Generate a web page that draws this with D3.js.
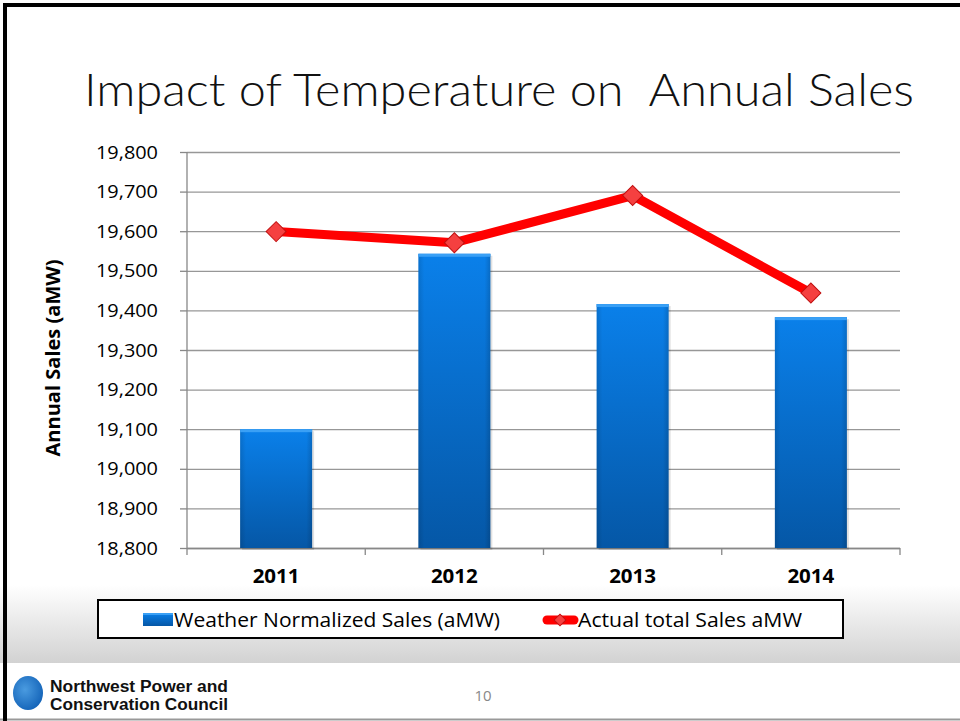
<!DOCTYPE html>
<html><head><meta charset="utf-8">
<script src="https://cdn.jsdelivr.net/npm/d3@7"></script>
<style>body{margin:0;background:#fff}svg{display:block}</style>
</head><body>
<script>
const categories = ["2011","2012","2013","2014"];
const normalizedSales = [19100, 19543, 19416, 19383];
const actualSales = [19599, 19571, 19690, 19444];
const yTicks = [18800,18900,19000,19100,19200,19300,19400,19500,19600,19700,19800];
const seriesNames = ["Weather Normalized Sales (aMW)", "Actual total Sales aMW"];

const W = 960, H = 721;
const FONT = "'Open Sans', sans-serif";
const svg = d3.select("body").append("svg").attr("width", W).attr("height", H);
const defs = svg.append("defs");

const bg = defs.append("linearGradient").attr("id","band").attr("x1",0).attr("y1",0).attr("x2",0).attr("y2",1);
bg.append("stop").attr("offset","0%").attr("stop-color","#ffffff");
bg.append("stop").attr("offset","100%").attr("stop-color","#d2d2d2");

const bar = defs.append("linearGradient").attr("id","bar").attr("x1",0).attr("y1",0).attr("x2",0).attr("y2",1);
bar.append("stop").attr("offset","0%").attr("stop-color","#0a80ea");
bar.append("stop").attr("offset","100%").attr("stop-color","#0557a6");
const barH = defs.append("linearGradient").attr("id","barH").attr("x1",0).attr("y1",0).attr("x2",1).attr("y2",0);
barH.append("stop").attr("offset","0%").attr("stop-color","#000").attr("stop-opacity",0.12);
barH.append("stop").attr("offset","8%").attr("stop-color","#000").attr("stop-opacity",0);
barH.append("stop").attr("offset","92%").attr("stop-color","#000").attr("stop-opacity",0);
barH.append("stop").attr("offset","100%").attr("stop-color","#000").attr("stop-opacity",0.15);

// background band + frame
svg.append("rect").attr("x",0).attr("y",585).attr("width",W).attr("height",78).attr("fill","url(#band)");
svg.append("line").attr("x1",0).attr("x2",W).attr("y1",719.5).attr("y2",719.5).attr("stroke","#999").attr("stroke-width",2);
svg.append("line").attr("x1",3).attr("x2",W).attr("y1",5).attr("y2",5).attr("stroke","#000").attr("stroke-width",4);
svg.append("line").attr("x1",5).attr("x2",5).attr("y1",3).attr("y2",H).attr("stroke","#000").attr("stroke-width",4);

// title
svg.append("text").attr("x",84).attr("y",106)
  .attr("font-family","Lato, 'DejaVu Sans', sans-serif").attr("font-weight",300)
  .attr("font-size",46).attr("fill","#111")
  .attr("textLength",830).attr("lengthAdjust","spacingAndGlyphs")
  .style("white-space","pre")
  .text("Impact of Temperature on  Annual Sales");

const L = 187, R = 900, T = 152, B = 548;
const x = d3.scaleBand().domain(categories).range([L,R]);
const y = d3.scaleLinear().domain([18800,19800]).range([B,T]);

const g = svg.append("g");
// gridlines
g.selectAll(".grid").data(yTicks).join("line")
  .attr("x1",L).attr("x2",R).attr("y1",d=>y(d)+0.5).attr("y2",d=>y(d)+0.5)
  .attr("stroke","#979797").attr("stroke-width",1.3);

// y axis
const ya = g.append("g").attr("transform",`translate(${L},0)`)
  .call(d3.axisLeft(y).tickValues(yTicks).tickSize(7).tickPadding(22).tickFormat(d3.format(",")));
ya.select(".domain").attr("stroke","#888").attr("stroke-width",1.3).attr("d",`M0,${T}V${B}`);
ya.selectAll(".tick line").attr("stroke","#888").attr("stroke-width",1.3);
ya.selectAll("text").attr("font-family",FONT).attr("font-size",19).attr("fill","#000")
  .attr("textLength",62).attr("lengthAdjust","spacingAndGlyphs");

// x axis
const xa = g.append("g").attr("transform",`translate(0,${B})`)
  .call(d3.axisBottom(x).tickSize(0).tickPadding(22));
xa.select(".domain").attr("stroke","#888").attr("stroke-width",1.3).attr("d",`M${L},0.5H${R}`);
xa.selectAll("text").attr("font-family",FONT).attr("font-weight","bold").attr("font-size",19).attr("fill","#000")
  .attr("textLength",47).attr("lengthAdjust","spacingAndGlyphs");
const bounds = categories.map(c=>x(c)).concat([R]);
xa.selectAll(".sep").data(bounds).join("line").attr("class","sep")
  .attr("x1",d=>d).attr("x2",d=>d).attr("y1",0).attr("y2",7).attr("stroke","#888").attr("stroke-width",1.3);

// y title
svg.append("text").attr("transform","translate(60,358) rotate(-90)").attr("text-anchor","middle")
  .attr("font-family",FONT).attr("font-weight","bold").attr("font-size",19)
  .attr("textLength",197).attr("lengthAdjust","spacingAndGlyphs")
  .text("Annual Sales (aMW)");

// bars
const bw = 72;
const bars = g.selectAll(".bar").data(categories).join("g");
bars.append("rect").attr("x",(d)=>x(d)+x.bandwidth()/2-bw/2+2).attr("y",(d,i)=>y(normalizedSales[i])+2)
  .attr("width",bw).attr("height",(d,i)=>B-y(normalizedSales[i])).attr("fill","#000").attr("opacity",0.12);
bars.append("rect").attr("x",(d)=>x(d)+x.bandwidth()/2-bw/2).attr("y",(d,i)=>y(normalizedSales[i]))
  .attr("width",bw).attr("height",(d,i)=>B-y(normalizedSales[i])).attr("fill","url(#bar)");
bars.append("rect").attr("x",(d)=>x(d)+x.bandwidth()/2-bw/2).attr("y",(d,i)=>y(normalizedSales[i]))
  .attr("width",bw).attr("height",(d,i)=>B-y(normalizedSales[i])).attr("fill","url(#barH)");
bars.append("rect").attr("x",(d)=>x(d)+x.bandwidth()/2-bw/2).attr("y",(d,i)=>y(normalizedSales[i]))
  .attr("width",bw).attr("height",3).attr("fill","#3aa0f5");

// line
const cx = d=>x(d)+x.bandwidth()/2;
const line = d3.line().x((d,i)=>cx(categories[i])).y(d=>y(d));
g.append("path").datum(actualSales).attr("d",line).attr("fill","none")
  .attr("stroke","#ff0000").attr("stroke-width",9).attr("stroke-linejoin","round");
g.selectAll(".mk").data(actualSales).join("path")
  .attr("transform",(d,i)=>`translate(${cx(categories[i])},${y(d)}) rotate(45)`)
  .attr("d",d3.symbol().type(d3.symbolSquare).size(200))
  .attr("fill","#f54040").attr("stroke","#c01010").attr("stroke-width",1);

// legend
const lg = svg.append("g");
lg.append("rect").attr("x",98).attr("y",600).attr("width",745).attr("height",38).attr("fill","#fff").attr("stroke","#000").attr("stroke-width",2);
lg.append("rect").attr("x",143).attr("y",613).attr("width",30).attr("height",13).attr("fill","url(#bar)");
lg.append("rect").attr("x",143).attr("y",613).attr("width",30).attr("height",2).attr("fill","#3aa0f5");
lg.append("text").attr("x",174).attr("y",627).attr("font-family",FONT).attr("font-size",20)
  .attr("textLength",326).attr("lengthAdjust","spacingAndGlyphs").text(seriesNames[0]);
lg.append("line").attr("x1",547).attr("x2",574).attr("y1",620).attr("y2",620).attr("stroke","#ff0000").attr("stroke-width",9).attr("stroke-linecap","round");
lg.append("path").attr("transform","translate(560,620) rotate(45)").attr("d",d3.symbol().type(d3.symbolSquare).size(70))
  .attr("fill","#f54040").attr("stroke","#c01010").attr("stroke-width",1);
lg.append("text").attr("x",578).attr("y",627).attr("font-family",FONT).attr("font-size",20)
  .attr("textLength",224).attr("lengthAdjust","spacingAndGlyphs").text(seriesNames[1]);

// footer
const lr = defs.append("radialGradient").attr("id","logo").attr("cx","40%").attr("cy","40%").attr("r","70%");
lr.append("stop").attr("offset","0%").attr("stop-color","#4a9be0");
lr.append("stop").attr("offset","100%").attr("stop-color","#0f5fb5");
svg.append("ellipse").attr("cx",28).attr("cy",693).attr("rx",15).attr("ry",17).attr("fill","url(#logo)");
svg.append("text").attr("x",50).attr("y",692).attr("font-family","'Liberation Sans', Arial, sans-serif").attr("font-weight","bold")
  .attr("font-size",16).attr("textLength",178).attr("lengthAdjust","spacingAndGlyphs").attr("fill","#111").text("Northwest Power and");
svg.append("text").attr("x",50).attr("y",710).attr("font-family","'Liberation Sans', Arial, sans-serif").attr("font-weight","bold")
  .attr("font-size",16).attr("textLength",178).attr("lengthAdjust","spacingAndGlyphs").attr("fill","#111").text("Conservation Council");
svg.append("text").attr("x",483).attr("y",701).attr("text-anchor","middle").attr("font-family",FONT)
  .attr("font-size",15).attr("fill","#888").text("10");
</script>
</body></html>
